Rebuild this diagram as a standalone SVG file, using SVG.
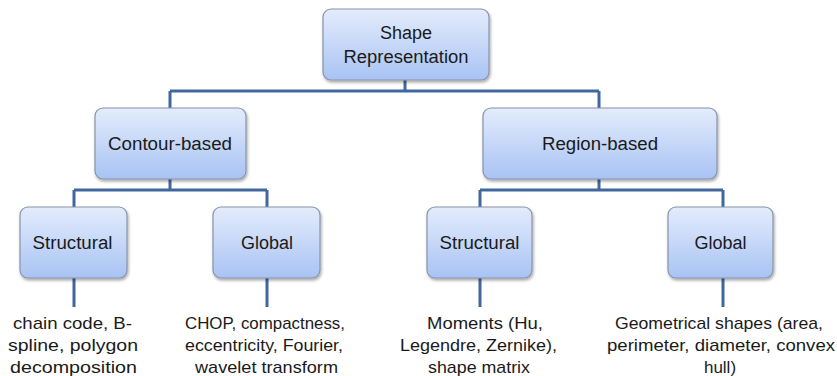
<svg xmlns="http://www.w3.org/2000/svg" width="837" height="376" viewBox="0 0 837 376">
<defs>
<linearGradient id="g" x1="0" y1="0" x2="0" y2="1">
<stop offset="0" stop-color="#e4ecfc"/>
<stop offset="1" stop-color="#a8c3f4"/>
</linearGradient>
<filter id="sh" x="-10%" y="-10%" width="130%" height="130%">
<feGaussianBlur in="SourceAlpha" stdDeviation="1.5"/>
<feOffset dx="1" dy="2"/>
<feComponentTransfer><feFuncA type="linear" slope="0.35"/></feComponentTransfer>
<feMerge><feMergeNode/><feMergeNode in="SourceGraphic"/></feMerge>
</filter>
</defs>
<style>
.box{fill:url(#g);stroke:#8794aa;stroke-width:1.2;filter:url(#sh)}
.lbl{font-family:"Liberation Sans",Arial,sans-serif;font-size:18px;fill:#1a1a1a;text-anchor:middle}
.desc{font-family:"Liberation Sans",Arial,sans-serif;font-size:17px;fill:#1a1a1a;text-anchor:middle}
.conn{stroke:#41689e;stroke-width:3;fill:none}
</style>
<rect width="837" height="376" fill="#ffffff"/>
<g id="connectors">
<path class="conn" d="M405,80 V91 M170,91 H599 M170,91 V108 M599,91 V108"/>
<path class="conn" d="M170,179 V190 M74,190 H267 M74,190 V207 M267,190 V207"/>
<path class="conn" d="M599,179 V190 M480,190 H723 M480,190 V207 M723,190 V207"/>
<path class="conn" d="M74,278 V307 M267,278 V307 M480,278 V307 M723,278 V307"/>
</g>
<g id="shape-representation">
<rect class="box" x="323" y="9" width="166" height="71" rx="8"/>
<text class="lbl" x="406" y="39">Shape</text>
<text class="lbl" x="406" y="63" textLength="125" lengthAdjust="spacingAndGlyphs">Representation</text>
</g>
<g id="contour-based">
<rect class="box" x="95" y="108" width="151" height="71" rx="8"/>
<text class="lbl" x="170" y="150" textLength="124" lengthAdjust="spacingAndGlyphs">Contour-based</text>
</g>
<g id="region-based">
<rect class="box" x="483" y="108" width="234" height="71" rx="8"/>
<text class="lbl" x="600" y="150" textLength="116" lengthAdjust="spacingAndGlyphs">Region-based</text>
</g>
<g id="contour-structural">
<rect class="box" x="20" y="207" width="107" height="71" rx="8"/>
<text class="lbl" x="72.5" y="249" textLength="80" lengthAdjust="spacingAndGlyphs">Structural</text>
</g>
<g id="contour-global">
<rect class="box" x="213" y="207" width="107" height="71" rx="8"/>
<text class="lbl" x="267" y="249">Global</text>
</g>
<g id="region-structural">
<rect class="box" x="427" y="207" width="105" height="71" rx="8"/>
<text class="lbl" x="479.5" y="249" textLength="80" lengthAdjust="spacingAndGlyphs">Structural</text>
</g>
<g id="region-global">
<rect class="box" x="668" y="207" width="105" height="71" rx="8"/>
<text class="lbl" x="720.5" y="249">Global</text>
</g>
<g id="desc-contour-structural">
<text class="desc" x="72.5" y="329" textLength="119" lengthAdjust="spacingAndGlyphs">chain code, B-</text>
<text class="desc" x="73" y="351" textLength="130" lengthAdjust="spacingAndGlyphs">spline, polygon</text>
<text class="desc" x="73.5" y="373" textLength="127" lengthAdjust="spacingAndGlyphs">decomposition</text>
</g>
<g id="desc-contour-global">
<text class="desc" x="265" y="329" textLength="160" lengthAdjust="spacingAndGlyphs">CHOP, compactness,</text>
<text class="desc" x="264" y="351" textLength="158" lengthAdjust="spacingAndGlyphs">eccentricity, Fourier,</text>
<text class="desc" x="266.5" y="373" textLength="143" lengthAdjust="spacingAndGlyphs">wavelet transform</text>
</g>
<g id="desc-region-structural">
<text class="desc" x="485" y="329" textLength="116" lengthAdjust="spacingAndGlyphs">Moments (Hu,</text>
<text class="desc" x="478.5" y="351" textLength="157" lengthAdjust="spacingAndGlyphs">Legendre, Zernike),</text>
<text class="desc" x="479" y="373" textLength="102" lengthAdjust="spacingAndGlyphs">shape matrix</text>
</g>
<g id="desc-region-global">
<text class="desc" x="719" y="329" textLength="208" lengthAdjust="spacingAndGlyphs">Geometrical shapes (area,</text>
<text class="desc" x="721" y="351" textLength="228" lengthAdjust="spacingAndGlyphs">perimeter, diameter, convex</text>
<text class="desc" x="720" y="373">hull)</text>
</g>
</svg>
